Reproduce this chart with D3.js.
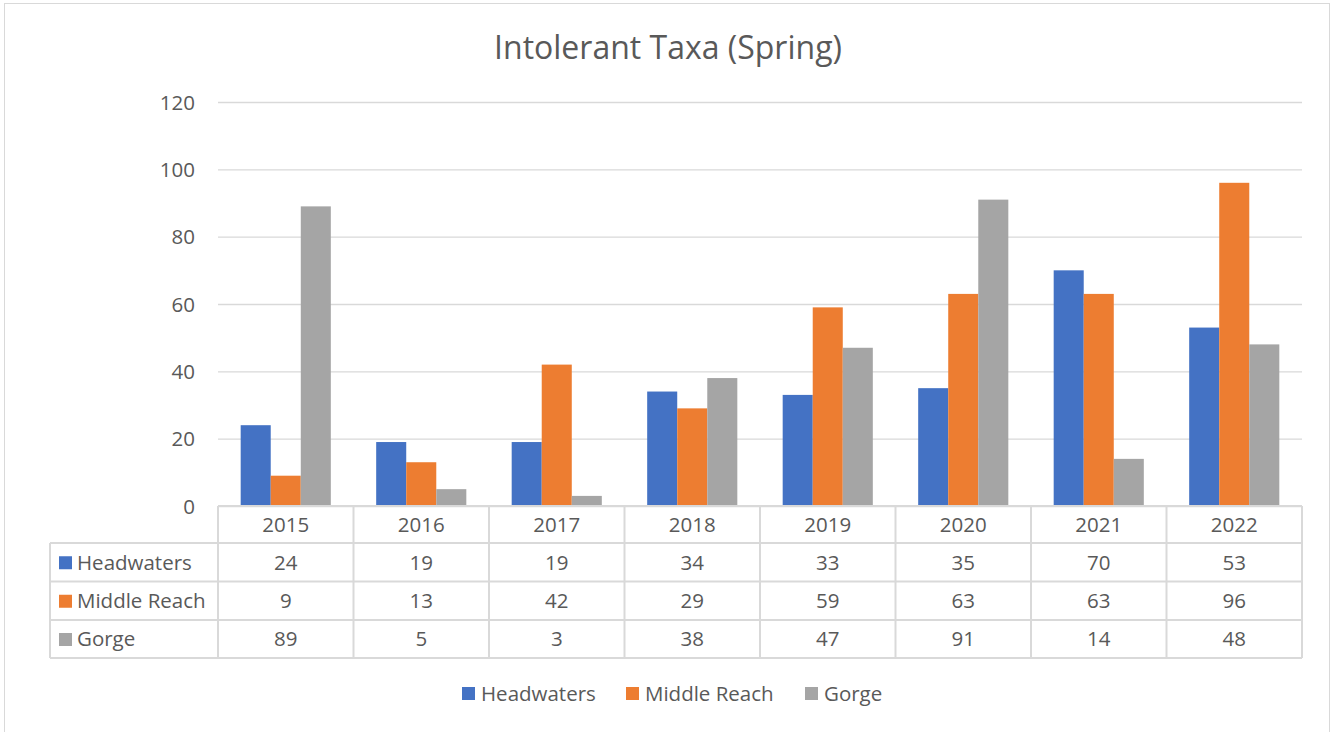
<!DOCTYPE html>
<html>
<head>
<meta charset="utf-8">
<script src="https://cdn.jsdelivr.net/npm/d3@7"></script>
<style>
  body { margin: 0; background: #fff; }
  svg text { font-family: "Open Sans", Lato, sans-serif; fill: #595959; }
</style>
</head>
<body>
<div id="chart"></div>
<script>
// chart data
const years = ["2015", "2016", "2017", "2018", "2019", "2020", "2021", "2022"];
const series_names = ["Headwaters", "Middle Reach", "Gorge"];
const headwaters = [24, 19, 19, 34, 33, 35, 70, 53];
const middle_reach = [9, 13, 42, 29, 59, 63, 63, 96];
const gorge = [89, 5, 3, 38, 47, 91, 14, 48];
const y_ticks = [0, 20, 40, 60, 80, 100, 120];

const series_values = [headwaters, middle_reach, gorge];
const colors = d3.scaleOrdinal().domain(series_names).range(["#4472C4", "#ED7D31", "#A5A5A5"]);

const width = 1331, height = 732;
const plot = {left: 218, right: 1302, top: 102, bottom: 506};
const table_left = 50;
const row_h = [37, 38.5, 38.5, 38];   // header row, then one per series
const label_size = "20.5px";

let svg = d3.select("#chart").append("svg")
    .attr("width", width)
    .attr("height", height);

// chart frame
svg.append("rect")
    .attr("x", 4.5).attr("y", 3.5)
    .attr("width", 1325).attr("height", 740)
    .attr("fill", "none")
    .attr("stroke", "#d9d9d9");

svg.append("text")
    .attr("x", 668).attr("y", 59)
    .attr("text-anchor", "middle")
    .style("font-size", "32px")
    .text("Intolerant Taxa (Spring)");

let x = d3.scaleBand().domain(years).range([plot.left, plot.right]).paddingInner(0).paddingOuter(0);
let x_inner = d3.scaleBand().domain(series_names).range([0, x.bandwidth()]).paddingOuter(0.755).paddingInner(0);
let y = d3.scaleLinear().domain([0, 120]).range([plot.bottom, plot.top]);

// gridlines + y labels
let y_axis = d3.axisLeft(y).tickValues(y_ticks).tickSize(-(plot.right - plot.left)).tickPadding(23);
let gy = svg.append("g").attr("transform", "translate(" + plot.left + ",0)").call(y_axis);
gy.select(".domain").remove();
gy.selectAll(".tick line").attr("stroke", "#d9d9d9").attr("stroke-width", 1.3);
gy.selectAll(".tick text").style("font-size", label_size).style("fill", "#595959")
    .style("font-family", "'Open Sans', sans-serif").attr("dy", "0.35em");

// bars
let groups = svg.selectAll(".year")
    .data(years)
    .enter().append("g")
    .attr("class", "year")
    .attr("transform", function(d) { return "translate(" + x(d) + ",0)"; });

groups.selectAll("rect")
    .data(function(d, i) {
        return series_names.map(function(s, j) { return {name: s, value: series_values[j][i]}; });
    })
    .enter().append("rect")
    .attr("x", function(d) { return x_inner(d.name); })
    .attr("width", x_inner.bandwidth())
    .attr("y", function(d) { return y(d.value); })
    .attr("height", function(d) { return y(0) - y(d.value); })
    .attr("fill", function(d) { return colors(d.name); });

// data table below the plot
let table = svg.append("g").attr("class", "table");
let row_y = [plot.bottom];
row_h.forEach(function(h) { row_y.push(row_y[row_y.length - 1] + h); });
const line_color = "#d9d9d9";

function hline(x1, x2, yy) {
    table.append("line").attr("x1", x1).attr("x2", x2).attr("y1", yy).attr("y2", yy)
        .attr("stroke", line_color).attr("stroke-width", 2);
}
function vline(xx, y1, y2) {
    table.append("line").attr("x1", xx).attr("x2", xx).attr("y1", y1).attr("y2", y2)
        .attr("stroke", line_color).attr("stroke-width", 2);
}

hline(plot.left, plot.right, row_y[0]);
for (let r = 1; r < row_y.length; r++) hline(table_left, plot.right, row_y[r]);
vline(table_left, row_y[1], row_y[row_y.length - 1]);
years.forEach(function(yr) { vline(x(yr), row_y[0], row_y[row_y.length - 1]); });
vline(plot.right, row_y[0], row_y[row_y.length - 1]);

// header labels
years.forEach(function(yr) {
    table.append("text")
        .attr("x", x(yr) + x.bandwidth() / 2)
        .attr("y", (row_y[0] + row_y[1]) / 2)
        .attr("dy", "0.36em")
        .attr("text-anchor", "middle")
        .style("font-size", label_size)
        .text(yr);
});

series_names.forEach(function(s, j) {
    let cy = (row_y[j + 1] + row_y[j + 2]) / 2;
    table.append("rect")
        .attr("x", 59).attr("y", cy - 6)
        .attr("width", 13).attr("height", 13)
        .attr("fill", colors(s));
    table.append("text")
        .attr("x", 77).attr("y", cy)
        .attr("dy", "0.36em")
        .style("font-size", label_size)
        .text(s);
    years.forEach(function(yr, i) {
        table.append("text")
            .attr("x", x(yr) + x.bandwidth() / 2)
            .attr("y", cy)
            .attr("dy", "0.36em")
            .attr("text-anchor", "middle")
            .style("font-size", label_size)
            .text(series_values[j][i]);
    });
});

// legend
const legend_x = [462, 626, 805];
let legend = svg.append("g").attr("class", "legend");
series_names.forEach(function(s, j) {
    legend.append("rect")
        .attr("x", legend_x[j]).attr("y", 687)
        .attr("width", 13).attr("height", 13)
        .attr("fill", colors(s));
    legend.append("text")
        .attr("x", legend_x[j] + 19).attr("y", 694)
        .attr("dy", "0.36em")
        .style("font-size", label_size)
        .text(s);
});
</script>
</body>
</html>
